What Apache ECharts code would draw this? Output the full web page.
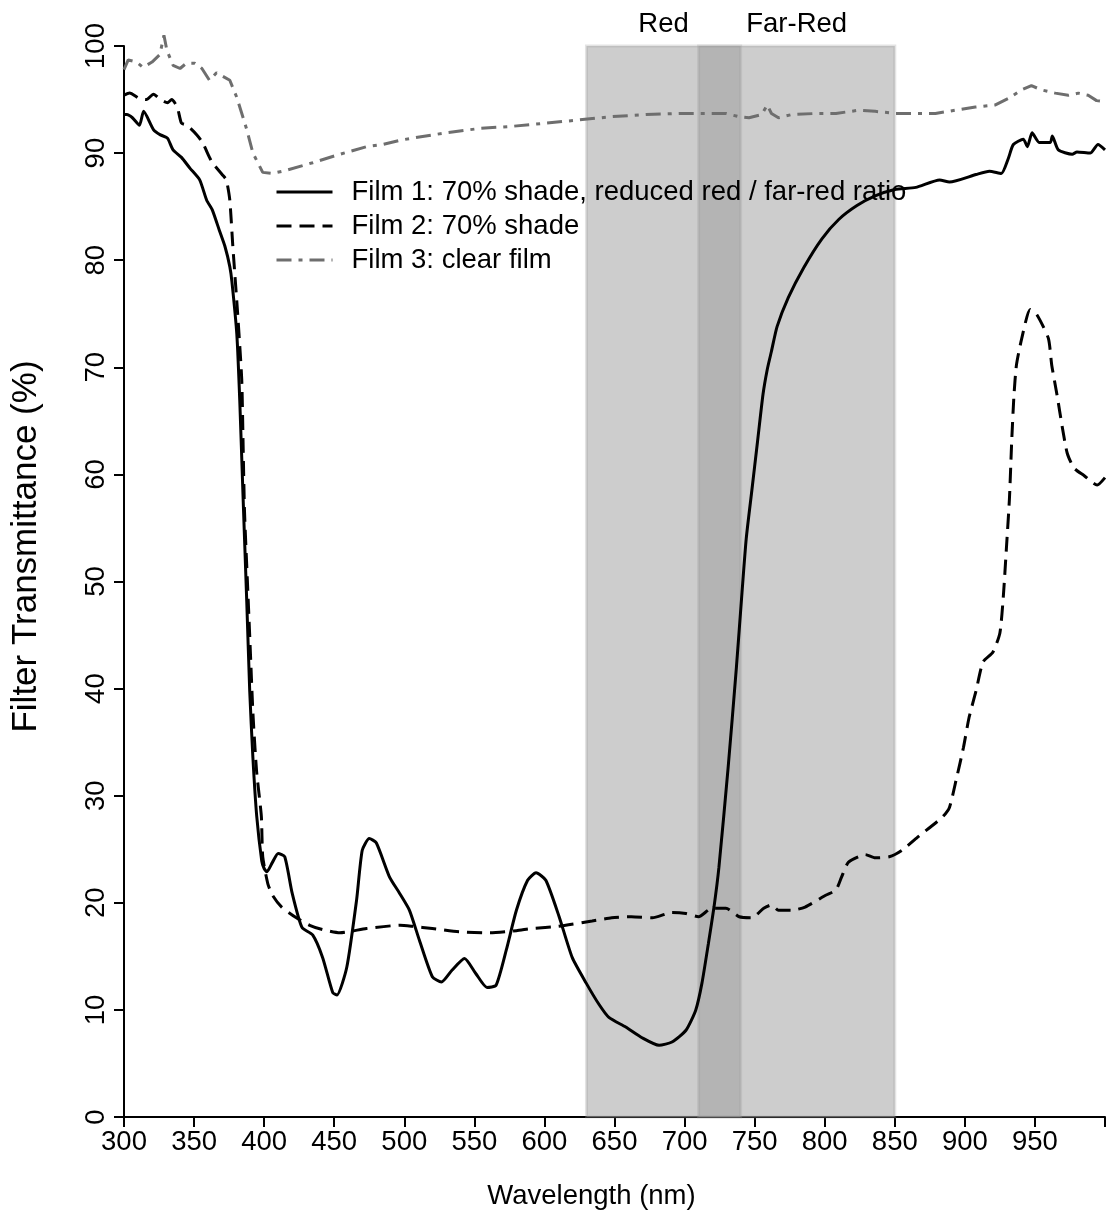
<!DOCTYPE html>
<html>
<head>
<meta charset="utf-8">
<script src="https://cdn.jsdelivr.net/npm/echarts@6/dist/echarts.min.js"></script>
<style>
  html, body { margin: 0; padding: 0; background: #fff; }
  #chart { width: 1108px; height: 1222px; }
</style>
</head>
<body>
<div id="chart"></div>
<script>
// wavelength (nm) and transmittance (%)
const film1Nm = [300, 302, 306, 311, 314, 321, 326, 331, 335, 341, 347, 354, 359, 363, 368, 372, 375.5, 377, 380.5, 382.6, 384.8, 387.6, 389.7, 392, 394.7, 398.3, 400, 402, 406, 410, 414.7, 420, 427, 434.6, 441.7, 449, 452, 459, 466, 470, 475, 480, 489.5, 496.6, 503.7, 510.8, 520, 526.5, 534, 543, 551, 559, 565.5, 572.8, 580, 588, 594, 601, 610.5, 619.8, 629.8, 639, 646, 658, 669.7, 681.8, 691, 701, 708, 712.4, 717, 721, 724.5, 731, 737, 741, 744, 748, 752, 756, 759, 762, 766, 774, 785, 798, 810, 823, 836, 850, 865, 882, 889, 908, 917.5, 926, 931, 934.6, 941.7, 944.6, 948, 953, 961, 962.4, 966.7, 976.6, 980, 989.4, 995, 1000];
const film1T = [93.6, 93.6, 93.3, 92.6, 93.9, 92.2, 91.7, 91.4, 90.3, 89.6, 88.6, 87.5, 85.6, 84.7, 82.8, 81.3, 79.4, 78.0, 73.1, 66.9, 58.5, 48.1, 39.8, 33.5, 28.1, 23.9, 23.2, 22.9, 23.8, 24.6, 24.3, 20.9, 17.7, 17.0, 14.9, 11.6, 11.4, 14.0, 20.3, 24.9, 26.0, 25.6, 22.4, 20.9, 19.3, 16.5, 13.1, 12.6, 13.7, 14.8, 13.4, 12.1, 12.3, 15.6, 19.3, 22.1, 22.8, 22.1, 18.7, 14.9, 12.5, 10.5, 9.3, 8.4, 7.4, 6.7, 7.0, 8.1, 10.0, 12.5, 16.2, 19.6, 23.3, 32.5, 42.0, 49.0, 54.0, 58.5, 63.0, 67.5, 69.8, 71.5, 73.8, 76.5, 79.3, 82.0, 83.8, 85.1, 86.0, 86.6, 86.8, 87.5, 87.3, 88.0, 88.3, 88.1, 89.5, 90.8, 91.3, 90.6, 91.9, 91.0, 91.0, 91.6, 90.3, 89.9, 90.1, 90.0, 90.8, 90.3];

const film2Nm = [300, 304, 311, 316, 321, 326, 331, 334, 338, 341, 345, 352, 356, 361, 363, 370, 373, 375.5, 377.6, 381, 384, 385, 386, 388, 390, 392, 394.6, 398, 399, 402.6, 406, 412.5, 423, 432.5, 441.7, 454, 473, 497, 506, 520, 539, 561, 580, 591, 610, 634, 648, 662, 677, 691, 701, 710, 719.5, 729.5, 739, 748, 756.5, 762, 767, 776.5, 786, 800.7, 808, 812, 817, 829, 836, 846, 855, 867, 884, 889, 894, 899, 903, 908, 913, 920, 925, 927.5, 929.6, 931.8, 933.4, 935, 936.8, 940.6, 946.6, 951.4, 959.6, 962, 965.8, 969.4, 973, 977.8, 985, 994.4, 1000];
const film2T = [95.4, 95.6, 95.1, 95.0, 95.5, 95.0, 94.7, 95.0, 94.3, 92.8, 92.6, 91.7, 91.0, 89.6, 89.1, 88.0, 87.5, 85.6, 81.4, 75.2, 68.9, 62.7, 56.5, 50.2, 44.0, 37.7, 32.3, 28.1, 24.3, 21.8, 20.7, 19.6, 18.6, 17.9, 17.5, 17.2, 17.6, 17.9, 17.8, 17.6, 17.3, 17.2, 17.4, 17.6, 17.8, 18.3, 18.6, 18.7, 18.6, 19.1, 19.0, 18.7, 19.5, 19.5, 18.7, 18.6, 19.5, 19.8, 19.3, 19.3, 19.6, 20.7, 21.2, 22.4, 23.8, 24.5, 24.2, 24.3, 24.9, 26.2, 28.0, 28.9, 31.6, 34.5, 37.3, 39.8, 42.5, 43.4, 45.2, 48.7, 53.0, 57.7, 63.0, 67.3, 70.2, 72.7, 75.4, 74.9, 72.7, 70.2, 67.4, 64.5, 62.0, 60.6, 59.9, 59.0, 59.7];

const film3Nm = [300, 303, 309, 313.5, 320, 325.6, 328.5, 330.6, 335, 340, 344.6, 350.5, 355.6, 361, 366, 375.5, 380.5, 387.6, 392, 399, 406, 416, 434.6, 451.7, 473, 484.5, 497, 506, 530, 553.6, 577, 601, 625, 648, 672.5, 696, 710, 729.5, 738.7, 746, 755, 759, 762, 767, 776.5, 793.6, 808, 824, 836, 850.6, 864.8, 879, 893, 907.5, 921.8, 931, 940.5, 947.5, 954.6, 964.5, 973.8, 981, 988, 994, 1000];
const film3T = [97.8, 98.7, 98.5, 98.0, 98.5, 99.2, 101.0, 99.6, 98.2, 97.9, 98.4, 98.4, 97.9, 96.8, 97.5, 96.8, 95.2, 92.2, 90.0, 88.2, 88.1, 88.4, 89.1, 89.8, 90.6, 90.8, 91.2, 91.4, 91.9, 92.3, 92.5, 92.8, 93.1, 93.4, 93.6, 93.7, 93.7, 93.7, 93.4, 93.3, 93.6, 94.5, 93.7, 93.3, 93.6, 93.7, 93.7, 94.0, 93.9, 93.7, 93.7, 93.7, 94.0, 94.3, 94.5, 95.1, 95.9, 96.3, 95.9, 95.6, 95.4, 95.6, 95.4, 94.9, 94.8];

const seriesNames = ['Film 1: 70% shade, reduced red / far-red ratio', 'Film 2: 70% shade', 'Film 3: clear film'];
const bands = [['Red', 630, 740], ['Far-Red', 710, 850]];
const xTicks = { min: 300, max: 1000, step: 50 };
const yTicks = { min: 0, max: 100, step: 10 };

function zip(xs, ys) {
  return xs.map((x, i) => [x, ys[i]]);
}

const myChart = echarts.init(document.getElementById('chart'));
const font = "'Liberation Sans', Arial, sans-serif";
const fs = 27.5;

const option = {
  animation: false,
  textStyle: { fontFamily: font },
  grid: { left: 124, right: 1, top: 46, bottom: 105 },
  legend: {
    orient: 'vertical',
    left: 270,
    top: 173,
    itemWidth: 56,
    itemHeight: 14,
    itemGap: 6,
    itemStyle: { opacity: 0 },
    lineStyle: { width: 3 },
    textStyle: { fontSize: fs, color: '#000', fontFamily: font, padding: [0, 0, 0, 14] },
    data: seriesNames
  },
  xAxis: {
    type: 'value',
    min: xTicks.min,
    max: xTicks.max,
    interval: xTicks.step,
    name: 'Wavelength (nm)',
    nameLocation: 'middle',
    nameGap: 65,
    nameTextStyle: { fontSize: fs, color: '#000', padding: [0, 46, 0, 0] },
    axisLine: { lineStyle: { color: '#000', width: 2 } },
    axisTick: { length: 10, lineStyle: { color: '#000', width: 2 } },
    axisLabel: {
      fontSize: fs, color: '#000', margin: 11,
      formatter: v => (v === 1000 ? '' : String(v))
    },
    splitLine: { show: false }
  },
  yAxis: {
    type: 'value',
    min: yTicks.min,
    max: yTicks.max,
    interval: yTicks.step,
    name: 'Filter Transmittance (%)',
    nameLocation: 'middle',
    nameGap: 80,
    nameTextStyle: { fontSize: 35, color: '#000', padding: [0, 0, 0, 70] },
    axisLine: { show: true, lineStyle: { color: '#000', width: 2 } },
    axisTick: { show: true, length: 10, lineStyle: { color: '#000', width: 2 } },
    axisLabel: { fontSize: fs, color: '#000', rotate: 90, margin: 14 },
    splitLine: { show: false }
  },
  series: [
    {
      name: seriesNames[0],
      type: 'line',
      data: zip(film1Nm, film1T),
      symbol: 'none',
      smooth: 0.2,
      clip: false,
      z: 5,
      lineStyle: { color: '#000', width: 3 },
      itemStyle: { color: '#000' }
    },
    {
      name: seriesNames[1],
      type: 'line',
      data: zip(film2Nm, film2T),
      symbol: 'none',
      smooth: 0.2,
      clip: false,
      z: 4,
      lineStyle: { color: '#000', width: 3, type: [15, 8] },
      itemStyle: { color: '#000' }
    },
    {
      name: seriesNames[2],
      type: 'line',
      data: zip(film3Nm, film3T),
      symbol: 'none',
      clip: false,
      z: 3,
      lineStyle: { color: '#6e6e6e', width: 3, type: [15, 7, 4, 7] },
      itemStyle: { color: '#6e6e6e' },
      markArea: {
        silent: true,
        itemStyle: {
          color: 'rgba(155,155,155,0.5)',
          borderColor: 'rgba(155,155,155,0.28)',
          borderWidth: 3
        },
        label: {
          show: true,
          position: 'top',
          distance: 6,
          color: '#000',
          fontSize: fs,
          fontFamily: font,
          formatter: '{b}'
        },
        data: bands.map(b => [{ name: b[0], xAxis: b[1] }, { xAxis: b[2] }])
      }
    }
  ]
};
myChart.setOption(option);
</script>
</body>
</html>
